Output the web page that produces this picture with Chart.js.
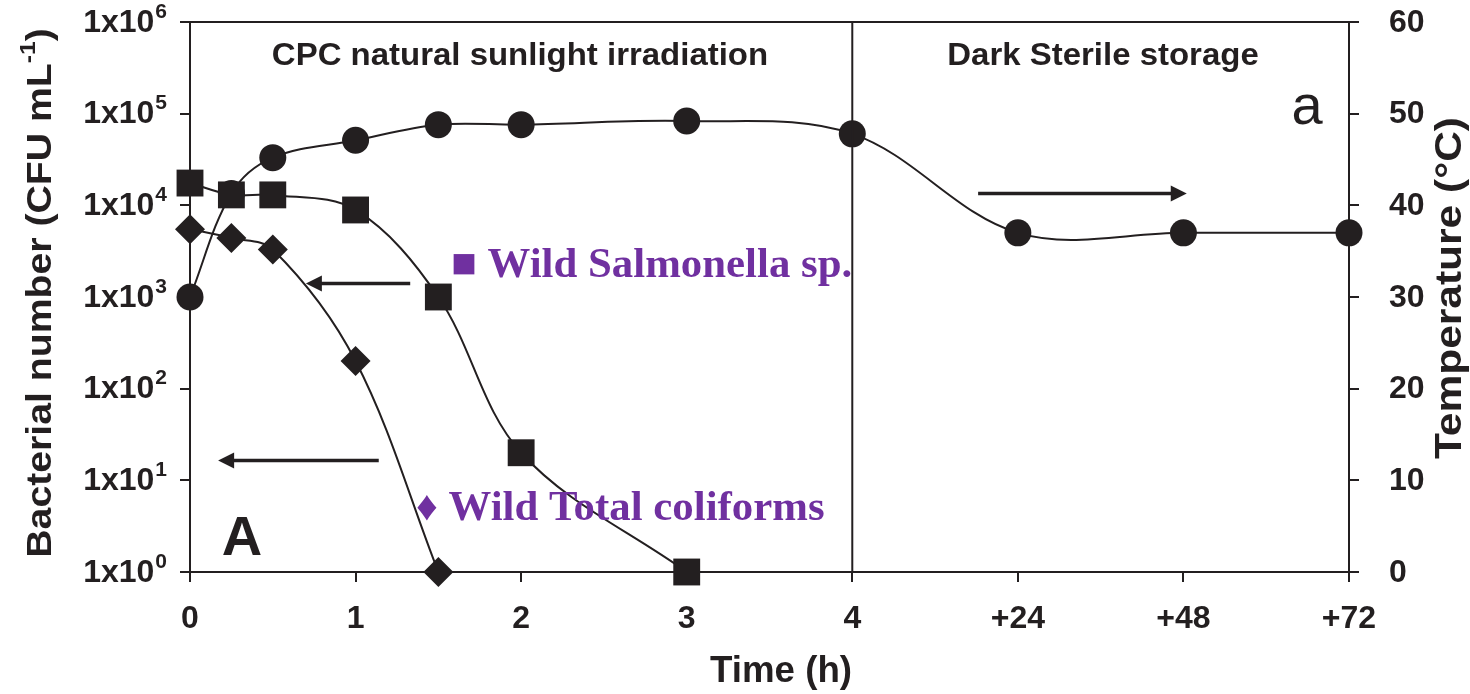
<!DOCTYPE html>
<html>
<head>
<meta charset="utf-8">
<script src="https://cdn.jsdelivr.net/npm/chart.js@4"></script>
<style>
  html, body { margin: 0; padding: 0; background: #fff; }
  #wrap { width: 1470px; height: 694px; }
</style>
</head>
<body>
<div id="wrap"><canvas id="chart" width="1470" height="694"></canvas></div>
<script>
// x axis: hours of irradiation 0-4, then storage (+24/+48/+72 h) placed at 5, 6, 7
const timeTicks = [0, 1, 2, 3, 4, 5, 6, 7];
const timeTickLabels = ['0', '1', '2', '3', '4', '+24', '+48', '+72'];
const cfuTicks = [1, 10, 100, 1000, 10000, 100000, 1000000];
const tempTicks = [0, 10, 20, 30, 40, 50, 60];

const salmonellaTime = [0, 0.25, 0.5, 1, 1.5, 2, 3];
const salmonellaCfu = [17500, 13000, 13000, 8900, 1000, 20, 1];

const coliformTime = [0, 0.25, 0.5, 1, 1.5];
const coliformCfu = [5500, 4400, 3300, 200, 1];

const tempTime = [0, 0.25, 0.5, 1, 1.5, 2, 3, 4, 5, 6, 7];
const tempValues = [30, 41.3, 45.2, 47.1, 48.8, 48.8, 49.2, 47.8, 37, 37, 37];

// arrows telling which axis a curve belongs to: [x from, x to, y value, axis]
const arrows = [
    [1.33, 0.70, 1400, 'y'],
    [1.14, 0.17, 16.5, 'y'],
    [4.76, 6.02, 41.3, 'y2']
];

const INK = '#231f20';
const PURPLE = '#7030a0';
const SANS = '"Liberation Sans", Arial, sans-serif';
const SERIF = '"Liberation Serif", "Times New Roman", serif';

function pts(xs, ys) {
    return xs.map((x, i) => ({ x: x, y: ys[i] }));
}

// text drawn at (x, y), optionally rotated and stretched along its length
function label(ctx, str, x, y, font, stretch, angle) {
    ctx.save();
    ctx.translate(x, y);
    if (angle) ctx.rotate(angle);
    ctx.scale(stretch || 1, 1);
    ctx.font = font;
    ctx.fillText(str, 0, 0);
    ctx.restore();
}

function drawArrow(ctx, x1, x2, y) {
    const dir = Math.sign(x2 - x1);
    ctx.strokeStyle = INK;
    ctx.fillStyle = INK;
    ctx.lineWidth = 3.5;
    ctx.beginPath();
    ctx.moveTo(x1, y);
    ctx.lineTo(x2 - dir * 12, y);
    ctx.stroke();
    ctx.beginPath();
    ctx.moveTo(x2, y);
    ctx.lineTo(x2 - dir * 16, y - 8);
    ctx.lineTo(x2 - dir * 16, y + 8);
    ctx.closePath();
    ctx.fill();
}

const decorations = {
    id: 'decorations',
    afterDraw(chart) {
        const { ctx, chartArea: area, scales } = chart;
        const x = scales.x, y = scales.y, y2 = scales.y2;
        ctx.save();

        // top frame and the irradiation / storage divider
        ctx.strokeStyle = INK;
        ctx.lineWidth = 2;
        ctx.beginPath();
        ctx.moveTo(area.left, area.top);
        ctx.lineTo(area.right, area.top);
        const xDiv = x.getPixelForValue(4);
        ctx.moveTo(xDiv, area.top);
        ctx.lineTo(xDiv, area.bottom);
        ctx.stroke();

        ctx.fillStyle = INK;
        ctx.textBaseline = 'middle';

        // x tick labels
        ctx.font = 'bold 32px ' + SANS;
        ctx.textAlign = 'center';
        timeTicks.forEach((t, i) => {
            ctx.fillText(timeTickLabels[i], x.getPixelForValue(t), area.bottom + 47);
        });

        // left tick labels 1x10^n
        cfuTicks.forEach(v => {
            const py = y.getPixelForValue(v);
            const exp = String(Math.round(Math.log10(v)));
            ctx.textAlign = 'right';
            ctx.font = 'bold 21px ' + SANS;
            const supW = ctx.measureText(exp).width;
            ctx.fillText(exp, 167, py - 10);
            ctx.font = 'bold 32px ' + SANS;
            ctx.fillText('1x10', 167 - supW - 1, py + 1);
        });

        // right tick labels
        ctx.textAlign = 'left';
        ctx.font = 'bold 32px ' + SANS;
        tempTicks.forEach(v => {
            ctx.fillText(String(v), area.right + 40, y2.getPixelForValue(v) + 1);
        });

        // axis titles
        ctx.textAlign = 'center';
        label(ctx, 'Time (h)', 781, 672, 'bold 36px ' + SANS, 1.02);
        label(ctx, 'Temperature (°C)', 1451, 288, 'bold 36px ' + SANS, 1.18, -Math.PI / 2);

        ctx.save();
        ctx.translate(41, 293);
        ctx.rotate(-Math.PI / 2);
        ctx.scale(1.12, 1);
        const partA = 'Bacterial number (CFU mL', sup = '-1', partB = ')';
        ctx.font = 'bold 35px ' + SANS;
        const wA = ctx.measureText(partA).width, wB = ctx.measureText(partB).width;
        ctx.font = 'bold 22px ' + SANS;
        const wS = ctx.measureText(sup).width;
        const cx = -(wA + wS + wB) / 2;
        ctx.textAlign = 'left';
        ctx.font = 'bold 35px ' + SANS;
        ctx.fillText(partA, cx, 0);
        ctx.font = 'bold 22px ' + SANS;
        ctx.fillText(sup, cx + wA, -12);
        ctx.font = 'bold 35px ' + SANS;
        ctx.fillText(partB, cx + wA + wS, 0);
        ctx.restore();

        // phase headings and panel letters
        ctx.textAlign = 'center';
        label(ctx, 'CPC natural sunlight irradiation', 520, 56, 'bold 32px ' + SANS, 1.03);
        label(ctx, 'Dark Sterile storage', 1103, 56, 'bold 32px ' + SANS, 1.03);
        label(ctx, 'a', 1307, 109, '56px ' + SANS);
        label(ctx, 'A', 242, 540, 'bold 56px ' + SANS);

        // series labels
        ctx.fillStyle = PURPLE;
        ctx.textAlign = 'left';
        label(ctx, '■ Wild Salmonella sp.', 451, 266, 'bold 42px ' + SERIF, 1.02);
        label(ctx, '♦ Wild Total coliforms', 416, 509, 'bold 42px ' + SERIF, 1.02);

        // arrows
        arrows.forEach(a => {
            const sc = scales[a[3]];
            drawArrow(ctx, x.getPixelForValue(a[0]), x.getPixelForValue(a[1]), sc.getPixelForValue(a[2]));
        });

        ctx.restore();
    }
};

const axisGrid = {
    display: true,
    drawOnChartArea: false,
    drawTicks: true,
    tickLength: 10,
    color: INK,
    lineWidth: 2
};
const axisBorder = { display: true, color: INK, width: 2 };

const series = (name, data, style, radius, axis) => ({
    label: name,
    data: data,
    yAxisID: axis,
    borderColor: INK,
    backgroundColor: INK,
    borderWidth: 2,
    pointStyle: style,
    pointRadius: radius,
    pointBorderWidth: 0,
    tension: 0.35,
    clip: false
});

new Chart(document.getElementById('chart').getContext('2d'), {
    type: 'line',
    data: {
        datasets: [
            series('Wild Salmonella sp.', pts(salmonellaTime, salmonellaCfu), 'rect', 19, 'y'),
            series('Wild Total coliforms', pts(coliformTime, coliformCfu), 'rectRot', 15, 'y'),
            series('Temperature', pts(tempTime, tempValues), 'circle', 13.5, 'y2')
        ]
    },
    options: {
        responsive: false,
        animation: false,
        layout: { padding: { left: 180, right: 111, top: 22, bottom: 112 } },
        plugins: {
            legend: { display: false },
            tooltip: { enabled: false }
        },
        scales: {
            x: {
                type: 'linear',
                min: 0,
                max: 7,
                afterBuildTicks: s => { s.ticks = timeTicks.map(v => ({ value: v })); },
                ticks: { display: false },
                grid: axisGrid,
                border: axisBorder
            },
            y: {
                type: 'logarithmic',
                position: 'left',
                min: 1,
                max: 1000000,
                afterBuildTicks: s => { s.ticks = cfuTicks.map(v => ({ value: v })); },
                ticks: { display: false },
                grid: axisGrid,
                border: axisBorder
            },
            y2: {
                type: 'linear',
                position: 'right',
                min: 0,
                max: 60,
                afterBuildTicks: s => { s.ticks = tempTicks.map(v => ({ value: v })); },
                ticks: { display: false },
                grid: axisGrid,
                border: axisBorder
            }
        }
    },
    plugins: [decorations]
});
</script>
</body>
</html>
